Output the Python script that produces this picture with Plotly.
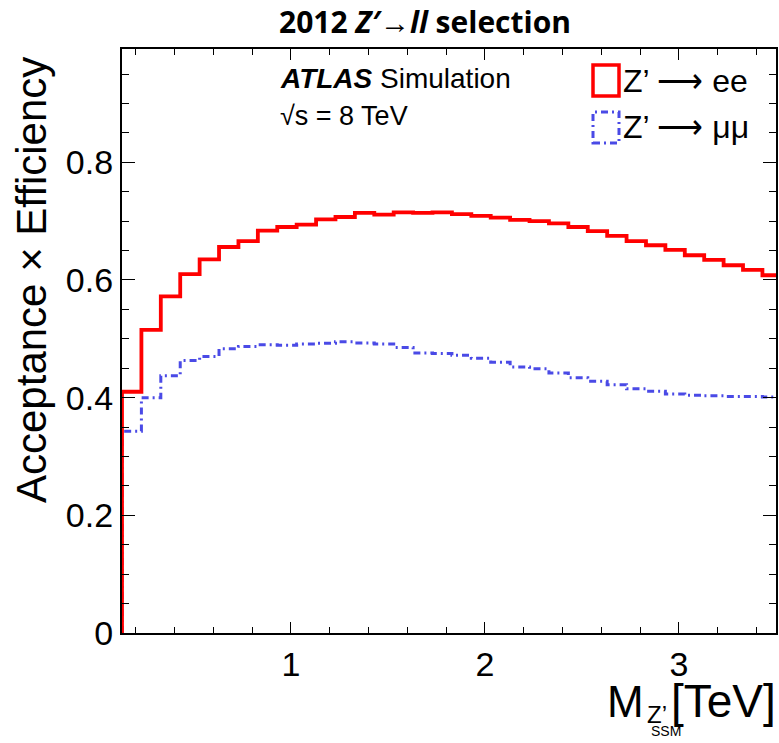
import plotly.graph_objects as go

# Bin layout of the mass histograms (TeV)
bin_start = 0.13
bin_width = 0.1
n_bins = 34

# Acceptance x efficiency per mass bin
acc_ee = [0.410, 0.515, 0.572, 0.610, 0.635, 0.656, 0.666, 0.684, 0.690, 0.694,
          0.703, 0.707, 0.714, 0.711, 0.715, 0.714, 0.715, 0.712, 0.709, 0.706,
          0.702, 0.700, 0.696, 0.690, 0.683, 0.675, 0.666, 0.659, 0.651, 0.642,
          0.634, 0.625, 0.617, 0.608]
acc_mumu = [0.343, 0.400, 0.437, 0.463, 0.470, 0.483, 0.487, 0.490, 0.489, 0.491,
            0.4925, 0.495, 0.493, 0.491, 0.485, 0.476, 0.475, 0.472, 0.467, 0.460,
            0.452, 0.449, 0.442, 0.434, 0.428, 0.422, 0.415, 0.411, 0.406, 0.404,
            0.403, 0.402, 0.402, 0.401]

x_ticks = [1, 2, 3]
y_ticks = [0, 0.2, 0.4, 0.6, 0.8]
y_tick_text = ["0", "0.2", "0.4", "0.6", "0.8"]

x_range = [0.13, 3.5]
y_range = [0, 0.9925]

edges = [round(bin_start + i * bin_width, 4) for i in range(n_bins + 1)]


def step_points(values):
    # histogram outline: rise from zero at the first edge, then one step per bin
    xs = [edges[0]] + edges
    ys = [0.0] + list(values) + [values[-1]]
    return xs, ys


RED = "#ff0000"
BLUE = "#4a4ae6"
DASHDOT = "7px,4px,2px,4px"

fig = go.Figure()
xb, yb = step_points(acc_mumu)
fig.add_trace(go.Scatter(x=xb, y=yb, mode="lines", line_shape="hv",
                         line=dict(color=BLUE, width=3, dash=DASHDOT),
                         showlegend=False, hoverinfo="skip"))
xr, yr = step_points(acc_ee)
fig.add_trace(go.Scatter(x=xr, y=yr, mode="lines", line_shape="hv",
                         line=dict(color=RED, width=3.8),
                         showlegend=False, hoverinfo="skip"))
# empty trace so the top/right tick axes are laid out
fig.add_trace(go.Scatter(x=[], y=[], xaxis="x2", yaxis="y2",
                         showlegend=False, hoverinfo="skip"))

# plot-area geometry in pixels
L, R, T, B = 122, 776, 49, 633
W, H = 779, 743


def px(xp):
    return (xp - L) / (R - L)


def py(yp):
    return (B - yp) / (B - T)


AX_FONT = "Liberation Sans, Arial, sans-serif"
TICK_FONT = dict(size=34, family=AX_FONT, color="black")

x_common = dict(range=x_range, tickvals=x_ticks, ticks="inside", ticklen=11,
                tickwidth=1.3, tickcolor="black", showgrid=False, zeroline=False,
                minor=dict(ticks="inside", dtick=0.2, tick0=0, ticklen=6,
                           tickwidth=1.3, tickcolor="black", showgrid=False))
y_common = dict(range=y_range, tickvals=y_ticks, ticks="inside", ticklen=13,
                tickwidth=1.3, tickcolor="black", showgrid=False, zeroline=False,
                minor=dict(ticks="inside", dtick=0.05, tick0=0, ticklen=7,
                           tickwidth=1.3, tickcolor="black", showgrid=False))

fig.update_layout(
    width=W, height=H,
    margin=dict(l=L, r=W - R, t=T, b=H - B, autoexpand=False),
    paper_bgcolor="white", plot_bgcolor="white",
    font=dict(family=AX_FONT, color="black"),
    xaxis=dict(**x_common, ticktext=[str(v) for v in x_ticks], tickfont=TICK_FONT,
               showline=True, linewidth=2.2, linecolor="black", mirror=True),
    yaxis=dict(**y_common, ticktext=y_tick_text, tickfont=TICK_FONT,
               showline=True, linewidth=2.2, linecolor="black", mirror=True),
    xaxis2=dict(**x_common, overlaying="x", side="top", anchor="y2",
                showticklabels=False, showline=False),
    yaxis2=dict(**y_common, overlaying="y", side="right", anchor="x2",
                showticklabels=False, showline=False),
)


def label(text, xp, yp, size, xanchor="left", angle=0, family=AX_FONT):
    return dict(text=text, x=px(xp), y=py(yp), xref="paper", yref="paper",
                xanchor=xanchor, yanchor="middle", showarrow=False,
                textangle=angle, font=dict(size=size, family=family, color="black"))


ann = [
    # title
    label("<b>2012 <i>Z′</i>→<i>ll</i> selection</b>", 425, 22, 30, "center",
          family="Open Sans, Noto Sans, sans-serif"),
    # y-axis title
    label("Acceptance × Efficiency", 31, 280, 42, "center", angle=-90),
    # x-axis title, pieced together: M, subscript Z', sub-subscript SSM, unit
    label("M", 646, 701, 44, "right"),
    label("Z’", 645, 714, 24, "left"),
    label("SSM", 649, 731, 14, "left"),
    label("[TeV]", 778, 701, 46, "right"),
    # experiment labels
    label("<b><i>ATLAS</i></b> Simulation", 278, 78, 28),
    label("√s = 8 TeV", 278, 116, 27),
    # legend entries
    label("Z’ ⟶ ee", 621, 81, 32),
    label("Z’ ⟶ μμ", 621, 127, 32),
]

shapes = [
    dict(type="rect", xref="paper", yref="paper",
         x0=px(593), x1=px(619), y0=py(96), y1=py(65),
         line=dict(color=RED, width=3.5), fillcolor="rgba(0,0,0,0)"),
    dict(type="rect", xref="paper", yref="paper",
         x0=px(593), x1=px(619), y0=py(143), y1=py(112),
         line=dict(color=BLUE, width=3, dash=DASHDOT),
         fillcolor="rgba(0,0,0,0)"),
]

fig.update_layout(annotations=ann, shapes=shapes)
fig.write_html("out.html")
